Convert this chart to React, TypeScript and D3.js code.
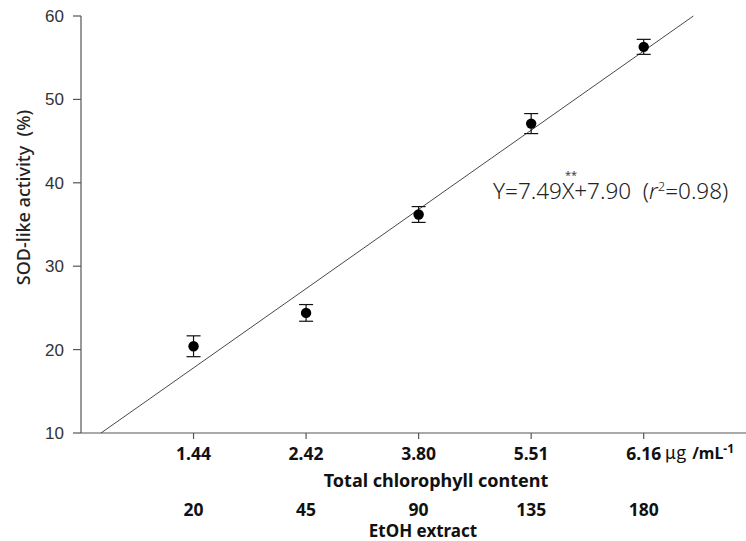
import React from 'react'
import * as d3 from 'd3'

// values
const chlorophyll = ['1.44', '2.42', '3.80', '5.51', '6.16']
const etohExtract = ['20', '45', '90', '135', '180']
const sodActivity = [20.4, 24.4, 36.2, 47.1, 56.3]
const sodError = [1.25, 1.0, 0.95, 1.2, 0.9]
const yTicks = [10, 20, 30, 40, 50, 60]
// fitted line, drawn against category position (1..5)
const fitIntercept = 8.31
const fitSlope = 9.5

const W = 746
const H = 541

export default function App() {
  const x = d3.scaleLinear().domain([0, 5.9]).range([81, 745])
  const y = d3.scaleLinear().domain([10, 60]).range([433, 16])

  const fitX0 = (10 - fitIntercept) / fitSlope
  const fitX1 = (60 - fitIntercept) / fitSlope
  const fitPath = d3.line<[number, number]>()
    .x(d => x(d[0]))
    .y(d => y(d[1]))([
      [fitX0, 10],
      [fitX1, 60],
    ])

  const axisColor = '#555'
  const labelFont = '"Noto Sans", "Open Sans", sans-serif'

  return (
    <div style={{ position: 'absolute', left: 0, top: 0 }}>
      <svg width={W} height={H} style={{ display: 'block', background: '#fff' }}>
        {/* y axis */}
        <line x1={x(0)} x2={x(0)} y1={y(10)} y2={y(60)} stroke={axisColor} strokeWidth={1.2} />
        {yTicks.map(t => (
          <g key={t}>
            <line x1={x(0) - 8} x2={x(0)} y1={y(t)} y2={y(t)} stroke={axisColor} strokeWidth={1.2} />
            <text
              x={x(0) - 17}
              y={y(t)}
              dy="0.35em"
              textAnchor="end"
              fontFamily='"Liberation Sans", Arial, sans-serif'
              fontSize={17}
              fill="#333"
            >
              {t}
            </text>
          </g>
        ))}
        <text
          transform={`translate(30,${(y(10) + y(60)) / 2 - 27}) rotate(-90)`}
          textAnchor="middle"
          fontFamily={labelFont}
          fontSize={18}
          fontWeight={500}
          fill="#222"
        >
          {'SOD-like activity\u00a0\u00a0(%)'}
        </text>

        {/* x axis */}
        <line x1={x(0)} x2={W} y1={y(10)} y2={y(10)} stroke={axisColor} strokeWidth={1.2} />
        {chlorophyll.map((c, i) => (
          <g key={c}>
            <line x1={x(i + 1)} x2={x(i + 1)} y1={y(10)} y2={y(10) + 6} stroke={axisColor} strokeWidth={1.2} />
            <text
              x={x(i + 1)}
              y={460}
              textAnchor="middle"
              fontFamily={labelFont}
              fontSize={17.5}
              fontWeight={700}
              fill="#111"
            >
              {c}
            </text>
            <text
              x={x(i + 1)}
              y={516}
              textAnchor="middle"
              fontFamily={labelFont}
              fontSize={17.5}
              fontWeight={700}
              fill="#111"
            >
              {etohExtract[i]}
            </text>
          </g>
        ))}
        <text x={x(5) + 21} y={459} fontFamily={labelFont} fontSize={16} fontWeight={700} fill="#111">
          <tspan fontFamily='"Noto Sans CJK KR", sans-serif' fontWeight={400} fontSize={18}>μg</tspan>
          <tspan dx={6}>/mL</tspan>
          <tspan dy={-6} fontSize={12}>-1</tspan>
        </text>
        <text
          x={436}
          y={487}
          textAnchor="middle"
          fontFamily={labelFont}
          fontSize={18}
          fontWeight={700}
          fill="#111"
        >
          Total chlorophyll content
        </text>
        <text
          x={423}
          y={537}
          textAnchor="middle"
          fontFamily={labelFont}
          fontSize={17}
          fontWeight={700}
          fill="#111"
        >
          EtOH extract
        </text>

        {/* regression line */}
        <path d={fitPath ?? ''} fill="none" stroke="#333" strokeWidth={0.9} />

        {/* points with error bars */}
        {sodActivity.map((v, i) => {
          const cx = x(i + 1)
          const top = y(v + sodError[i])
          const bot = y(v - sodError[i])
          return (
            <g key={i}>
              <line x1={cx} x2={cx} y1={top} y2={bot} stroke="#111" strokeWidth={1.2} />
              <line x1={cx - 7} x2={cx + 7} y1={top} y2={top} stroke="#111" strokeWidth={1.2} />
              <line x1={cx - 7} x2={cx + 7} y1={bot} y2={bot} stroke="#111" strokeWidth={1.2} />
              <circle cx={cx} cy={y(v)} r={5.2} fill="#000" />
            </g>
          )
        })}

        {/* equation */}
        <text x={493} y={199} fontFamily={labelFont} fontSize={22.5} fontWeight={300} fill="#222">
          {'Y=7.49X+7.90\u00a0\u00a0('}
          <tspan fontStyle="italic">r</tspan>
          <tspan dy={-8} fontSize={13}>2</tspan>
          <tspan dy={8}>=0.98)</tspan>
        </text>
        <text x={571} y={179} textAnchor="middle" fontFamily={labelFont} fontSize={11} fill="#444">
          **
        </text>
      </svg>
    </div>
  )
}
